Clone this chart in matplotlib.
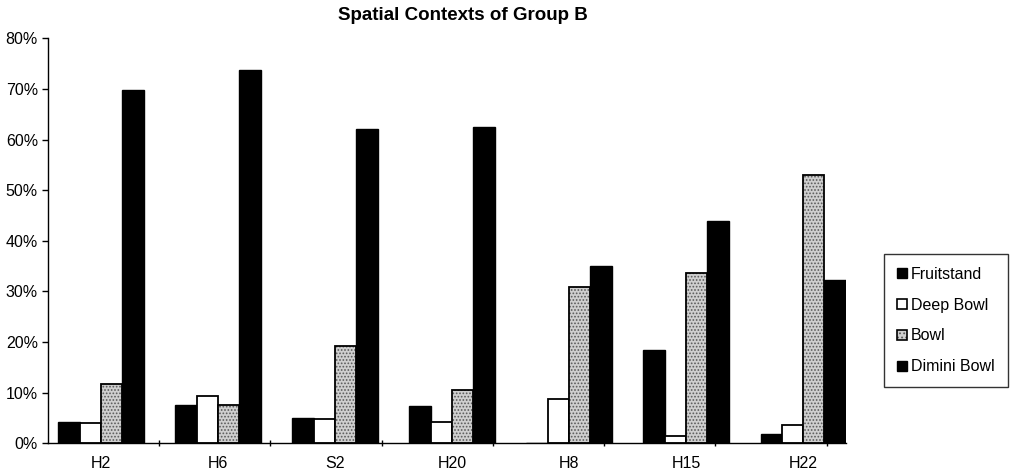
import numpy as np
import matplotlib
matplotlib.use("Agg")
import matplotlib.pyplot as plt
from matplotlib.patches import Patch
from matplotlib.ticker import FuncFormatter, FixedLocator

categories = ["H2", "H6", "S2", "H20", "H8", "H15", "H22"]
series_names = ["Fruitstand", "Deep Bowl", "Bowl", "Dimini Bowl"]
fruitstand = [4.3, 7.5, 4.9, 7.4, 0.0, 18.5, 1.8]
deep_bowl = [4.1, 9.3, 4.7, 4.3, 8.7, 1.5, 3.6]
bowl = [11.7, 7.5, 19.2, 10.6, 30.8, 33.6, 53.0]
dimini_bowl = [69.7, 73.7, 62.1, 62.4, 35.0, 44.0, 32.2]
yticks = [0, 10, 20, 30, 40, 50, 60, 70, 80]

plt.rcParams['font.family'] = ['Liberation Sans', 'DejaVu Sans']
plt.rcParams['hatch.linewidth'] = 0.8

fig = plt.figure(figsize=(10.12, 4.74), dpi=100)
ax = fig.add_axes([0.0471, 0.0648, 0.7886, 0.8544])

x = np.arange(len(categories))
w = 0.182
offsets = [-1.5 * w, -0.5 * w, 0.5 * w, 1.5 * w]

ax.bar(x + offsets[0], fruitstand, w, color='black', edgecolor='black', linewidth=1.0)
ax.bar(x + offsets[1], deep_bowl, w, color='white', edgecolor='black', linewidth=1.3)
ax.bar(x + offsets[2], bowl, w, color='#cfcfcf', edgecolor='#5a5a5a', linewidth=0, hatch='.....')
ax.bar(x + offsets[2], bowl, w, fill=False, edgecolor='black', linewidth=1.3)
ax.bar(x + offsets[3], dimini_bowl, w, color='black', edgecolor='black', linewidth=1.0)

xmin = -0.455
xmax = len(categories) - 1 + 2 * w
ax.set_xlim(xmin, xmax)
ax.set_ylim(0, 80)

ax.set_yticks(yticks)
ax.yaxis.set_major_formatter(FuncFormatter(lambda v, p: f"{int(v)}%"))
ax.set_xticks(x)
ax.set_xticklabels(categories)
ax.tick_params(axis='x', which='major', length=0, pad=9, labelsize=11.5)
ax.xaxis.set_minor_locator(FixedLocator([xmin + 0.951 * k for k in range(1, 8)]))
ax.tick_params(axis='x', which='minor', length=5, width=1.0, direction='inout')
ax.tick_params(axis='y', length=4, width=1.0, direction='out', pad=3, labelsize=11.5)

for s in ['top', 'right']:
    ax.spines[s].set_visible(False)
ax.spines['left'].set_linewidth(1.0)
ax.spines['bottom'].set_linewidth(1.0)

fig.text(463 / 1012, 1 - 16 / 474, "Spatial Contexts of Group B", ha='center', va='center',
         fontsize=13.5, fontweight='bold')

h_fruit = Patch(facecolor='black', edgecolor='black', linewidth=1.0)
h_deep = Patch(facecolor='white', edgecolor='black', linewidth=1.2)
h_bowl = (Patch(facecolor='#cfcfcf', edgecolor='#5a5a5a', linewidth=0, hatch='....'),
          Patch(fill=False, edgecolor='black', linewidth=1.2))
h_dim = Patch(facecolor='black', edgecolor='black', linewidth=1.0)
leg = fig.legend([h_fruit, h_deep, h_bowl, h_dim], series_names,
                 loc='center left', bbox_to_anchor=(884 / 1012, 1 - 320.5 / 474),
                 frameon=True, fancybox=False, edgecolor='black', fontsize=11.5,
                 handlelength=0.65, handleheight=0.65, handletextpad=0.25,
                 labelspacing=1.0, borderpad=0.8, borderaxespad=0)
leg.get_frame().set_linewidth(1.0)

fig.savefig("out.png", dpi=100)
